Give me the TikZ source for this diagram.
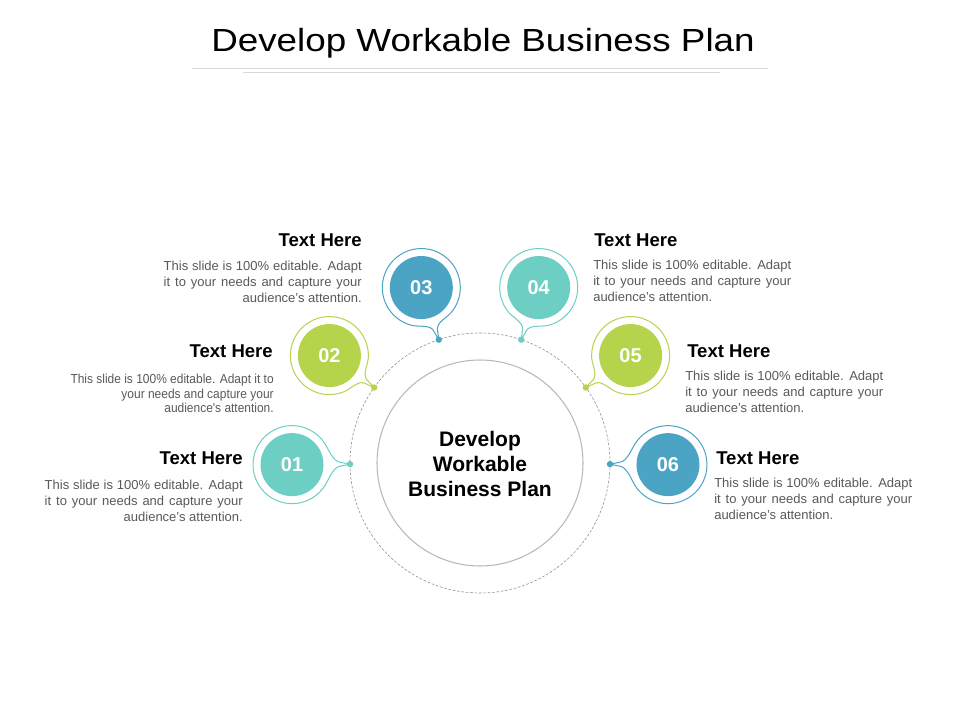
\documentclass[tikz,border=0pt]{standalone}
\usepackage{fontspec}
\setmainfont{Liberation Sans}
\newfontfamily\condf[FakeStretch=0.92]{Liberation Sans}
\newfontfamily\widef[FakeStretch=1.15]{Liberation Sans}
\definecolor{cteal}{HTML}{6DCFC4}
\definecolor{cgreen}{HTML}{B5D44C}
\definecolor{cblue}{HTML}{4CA4C4}
\definecolor{bodygray}{HTML}{595959}
\definecolor{linegray}{HTML}{D9D9D9}
\tikzset{
  x=0.75pt, y=0.75pt,
  ttl/.style={inner sep=0pt, font=\fontsize{13.9pt}{16pt}\selectfont\bfseries, text=black},
  bodyt/.style={inner sep=0pt, font=\fontsize{9.75pt}{12pt}\selectfont, text=bodygray},
  bodyc/.style={inner sep=0pt, font=\condf\fontsize{9.75pt}{12pt}\selectfont, text=bodygray},
  numt/.style={inner sep=0pt, font=\fontsize{15pt}{17pt}\selectfont\bfseries, text=white},
}
\newcommand{\mybadge}[5]{%
  % #1 name, #2 angle, #3 radius, #4 colour, #5 number
  \pgfmathsetmacro{\LL}{#3-130}
  \begin{scope}[shift={(480,257)}]
    \begin{scope}[shift={(#2:#3)}, rotate=#2+180]
      \draw[#4, line width=0.75pt, fill=white, line join=round]
        (33.07,20.67) arc[start angle=32, end angle=328, radius=39]
        .. controls (36.5,-15.16) and ({\LL-17},-3) .. ({\LL-10},-2)
        -- (\LL,0) -- ({\LL-10},2)
        .. controls ({\LL-17},3) and (36.5,15.16) .. cycle;
      \fill[#4] (0,0) circle[radius=31.5];
      \node[numt] (#1) at (0,0) {#5};
      \coordinate (#1d) at (\LL,0);
    \end{scope}
  \end{scope}
  \fill[#4] (#1d) circle[radius=3.2];
}
\begin{document}
\begin{tikzpicture}
\useasboundingbox (0,0) rectangle (960,720);
\fill[white] (0,0) rectangle (960,720);
% title
\node[inner sep=0pt, anchor=base, font=\widef\fontsize{24pt}{28pt}\selectfont] (title) at (483,720-52) {Develop Workable Business Plan};
\coordinate (l1a) at (192,720-69); \coordinate (l1b) at (768,720-69);
\coordinate (l2a) at (243,720-73); \coordinate (l2b) at (720,720-73);
\draw[linegray, line width=0.75pt] (l1a) -- (l1b);
\draw[linegray, line width=0.75pt] (l2a) -- (l2b);
% circles
\coordinate (cc) at (480,257);
\draw[gray!85, line width=0.45pt, dash pattern=on 2pt off 1.3pt] (cc) circle[radius=130];
\draw[gray!55, line width=0.8pt] (cc) circle[radius=103];
\node[inner sep=0pt, align=center, font=\fontsize{15.75pt}{19.1pt}\selectfont\bfseries] (center) at (480,720-464) {Develop\\Workable\\Business Plan};
% badges
\mybadge{b1}{180.5}{188}{cteal}{01}
\mybadge{b2}{144.5}{185}{cgreen}{02}
\mybadge{b3}{108.5}{185}{cblue}{03}
\mybadge{b4}{71.5}{185}{cteal}{04}
\mybadge{b5}{35.5}{185}{cgreen}{05}
\mybadge{b6}{-0.5}{188}{cblue}{06}
% block 03
\node[ttl, anchor=mid east] (t3) at (362,720-243) {Text Here};
\node[bodyt, anchor=mid east] (t3a) at (362,720-267) {\makebox[148.5pt][s]{This slide is 100\% editable. Adapt}};
\node[bodyt, anchor=mid east] (t3b) at (362,720-283) {\makebox[148.5pt][s]{it to your needs and capture your}};
\node[bodyt, anchor=mid east] (t3c) at (362,720-299) {audience's attention.};
% block 02
\node[ttl, anchor=mid east] (t2) at (273,720-354) {Text Here};
\node[bodyc, anchor=mid east] (t2a) at (274,720-380) {This slide is 100\% editable. Adapt it to};
\node[bodyc, anchor=mid east] (t2b) at (274,720-395) {your needs and capture your};
\node[bodyc, anchor=mid east] (t2c) at (274,720-409) {audience's attention.};
% block 01
\node[ttl, anchor=mid east] (t1) at (243,720-461) {Text Here};
\node[bodyt, anchor=mid east] (t1a) at (243,720-486) {\makebox[148.5pt][s]{This slide is 100\% editable. Adapt}};
\node[bodyt, anchor=mid east] (t1b) at (243,720-502) {\makebox[148.5pt][s]{it to your needs and capture your}};
\node[bodyt, anchor=mid east] (t1c) at (243,720-518) {audience's attention.};
% block 04
\node[ttl, anchor=mid west] (t4) at (594,720-243) {Text Here};
\node[bodyt, anchor=mid west] (t4a) at (593,720-266) {\makebox[148.5pt][s]{This slide is 100\% editable. Adapt}};
\node[bodyt, anchor=mid west] (t4b) at (593,720-282) {\makebox[148.5pt][s]{it to your needs and capture your}};
\node[bodyt, anchor=mid west] (t4c) at (593,720-298) {audience's attention.};
% block 05
\node[ttl, anchor=mid west] (t5) at (687,720-354) {Text Here};
\node[bodyt, anchor=mid west] (t5a) at (685,720-377) {\makebox[148.5pt][s]{This slide is 100\% editable. Adapt}};
\node[bodyt, anchor=mid west] (t5b) at (685,720-393) {\makebox[148.5pt][s]{it to your needs and capture your}};
\node[bodyt, anchor=mid west] (t5c) at (685,720-409) {audience's attention.};
% block 06
\node[ttl, anchor=mid west] (t6) at (716,720-461) {Text Here};
\node[bodyt, anchor=mid west] (t6a) at (714,720-484) {\makebox[148.5pt][s]{This slide is 100\% editable. Adapt}};
\node[bodyt, anchor=mid west] (t6b) at (714,720-500) {\makebox[148.5pt][s]{it to your needs and capture your}};
\node[bodyt, anchor=mid west] (t6c) at (714,720-516) {audience's attention.};
\end{tikzpicture}
\end{document}
